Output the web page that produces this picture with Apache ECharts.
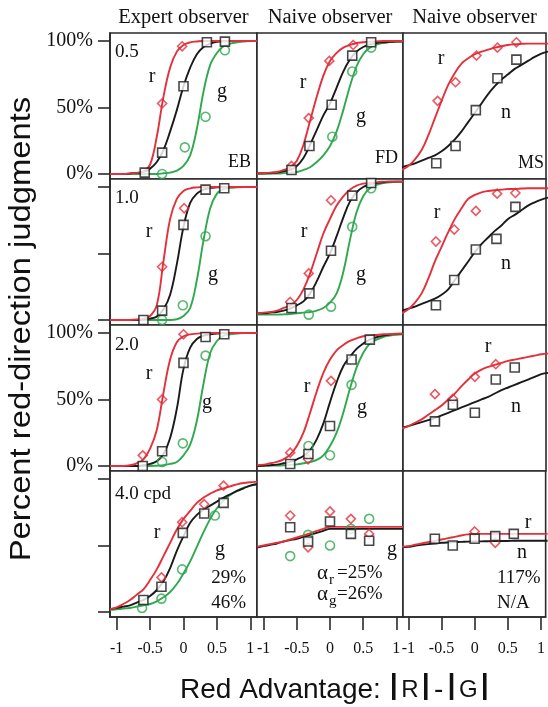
<!DOCTYPE html>
<html><head><meta charset="utf-8">
<script src="https://cdn.jsdelivr.net/npm/echarts@6/dist/echarts.min.js"></script>
<style>html,body{margin:0;padding:0;background:#fff}#c{width:548px;height:707px}</style>
</head><body><div id="c"></div><script>
// ---- data ----
const xTicks = [-1, -0.5, 0, 0.5, 1];
const yTicks = [0, 50, 100];
const columns = ['Expert observer', 'Naive observer', 'Naive observer'];
const observers = ['EB', 'FD', 'MS'];
const freqs = ['0.5', '1.0', '2.0', '4.0 cpd'];
const cx = [-1.1,-1.0,-0.9,-0.8,-0.7,-0.6,-0.5,-0.4,-0.3,-0.2,-0.1,0,0.1,0.2,0.3,0.4,0.5,0.6,0.7,0.8,0.9,1.0,1.1];

// row 1 : 0.5 cpd
const EB05_rFit = [0,0,0,0.3,0.8,2,7,28,58,80,92,97,99,99.6,100,100,100,100,100,100,100,100,100];
const EB05_nFit = [0,0,0,0.3,0.8,1.5,4,9,18,32,48,66,80,90,95.5,98,99.3,99.8,100,100,100,100,100];
const EB05_gFit = [0,0,0,0,0,0,0,0,0.5,1,2.5,6,14,34,62,82,91,96,98,99,99.5,100,100];
const EB05_r = [[-0.32,53],[-0.02,96]];
const EB05_n = [[-0.58,1],[-0.32,16],[0,66],[0.35,99],[0.62,99.5]];
const EB05_g = [[-0.32,0],[0.02,20],[0.33,43],[0.62,93]];

const FD05_rFit = [0.5,0.7,1,1.5,3,5,10,22,40,58,74,85,91,95,97,98.5,99,99.5,99.7,100,100,100,100];
const FD05_nFit = [0.5,0.6,0.8,1,2,3,6,12,22,33,44,53,65,77,86,92,95.5,97.5,98.5,99,99.3,99.5,99.5];
const FD05_gFit = [0,0,0.2,0.3,0.6,1,1.5,3,5,9,14,21,32,48,66,81,90,95,97.3,98.5,99.2,99.5,99.7];
const FD05_r = [[-0.58,6],[-0.32,42],[-0.01,85],[0.35,97]];
const FD05_n = [[-0.58,3],[-0.31,21],[0.025,52],[0.335,89],[0.62,99]];
const FD05_g = [[0.035,28],[0.335,77],[0.62,95]];

const MS05_rFit = [3,6,11,18,29,42,55,67,76,83,87,90,92,93.5,95,96,97,97.5,97.8,98,98,98,98];
const MS05_nFit = [5,6.5,8,10,12,14,17,21,26,32,39,46,53,60,66,71,75,79,82,85,88,90.5,92];
const MS05_r = [[-0.56,55],[-0.29,69],[0.025,89],[0.34,95],[0.625,99]];
const MS05_n = [[-0.58,8],[-0.29,21],[0.015,48],[0.34,72],[0.625,86]];

// row 2 : 1.0 cpd
const EB10_rFit = [0,0,0,0,0.3,1,3,11,44,76,91,97,99,99.7,100,100,100,100,100,100,100,100,100];
const EB10_nFit = [0,0,0,0,0,0.5,1,2.5,8,19,42,70,88,95,98,99.3,99.7,100,100,100,100,100,100];
const EB10_gFit = [0,0,0,0,0,0,0,0,0,0,0.5,3,9,30,60,84,95,98.5,99.3,99.7,100,100,100];
const EB10_r = [[-0.32,40],[0.01,84]];
const EB10_n = [[-0.6,0],[-0.32,7],[0,71.5],[0.33,98],[0.61,99]];
const EB10_g = [[-0.32,0],[-0.01,11],[0.33,63]];

const FD10_rFit = [5,5.5,6,7,9,11,15,23,35,50,65,76,86,93,98,101,102.5,103,103.5,104,104,104,104];
const FD10_nFit = [5,5,5.5,6,7,8.5,11,14,20,29,40,50,63,77,89,96,100,102,103,103.5,104,104,104];
const FD10_gFit = [4,4,4,4,4.2,4.5,5,5.5,6,7,9,13,20,36,60,81,93,99,101.5,103,103.5,104,104];
const FD10_r = [[-0.6,13.5],[-0.32,35],[0.015,90]];
const FD10_n = [[-0.58,9],[-0.31,20],[0.015,52],[0.335,93.5],[0.62,103]];
const FD10_g = [[-0.32,4],[0.015,10],[0.335,70],[0.62,99]];

const MS10_rFit = [5,8,13,20,31,44,55,66,76,84,91,94,96,97,97.5,98,98.5,98.5,98.8,99,99,99,99];
const MS10_nFit = [7,8.5,10,12,14,16,19,23,30,37,44,51,57,62,67,71,76,79,82.5,86,88.5,90.5,92];
const MS10_r = [[-0.585,59],[-0.31,68],[0.015,82],[0.335,95],[0.61,95.5]];
const MS10_n = [[-0.585,11],[-0.31,30],[0.015,53],[0.325,61],[0.61,85]];

// row 3 : 2.0 cpd
const EB20_rFit = [0,0,0,0.5,2,5,13,27,55,80,93,97.5,99,99.5,100,100,100,100,100,100,100,100,100];
const EB20_nFit = [0,0,0,0,0,0.5,1.5,3.5,9,21,43,73,89,95.5,98,99,99.5,100,100,100,100,100,100];
const EB20_gFit = [0,0,0,0,0,0,0,0.2,0.5,1.5,3,8,16,34,62,85,94,98,99,99.5,100,100,100];
const EB20_r = [[-0.61,8],[-0.32,50],[0,99]];
const EB20_n = [[-0.61,0],[-0.32,11],[0,77.5],[0.33,97],[0.61,99]];
const EB20_g = [[-0.32,3],[-0.01,17],[0.33,83]];

const FD20_rFit = [0.5,1,2,3,5,8.5,15,25,40,56,70,80,87,91,94,96,97.5,98,98.5,99,99.2,99.4,99.5];
const FD20_nFit = [0,0.3,0.6,1,2,3,5,7.5,12,20,32,48,63,75,82,88,92,95,96.8,98,98.8,99.3,99.5];
const FD20_gFit = [0,0,0.2,0.3,0.5,0.8,1.2,2,3,4.5,8,15,25,40,58,74,85,92,95,97,98,98.7,99];
const FD20_r = [[-0.6,10],[-0.33,5],[0.015,64]];
const FD20_n = [[-0.6,1.5],[-0.325,9],[0,30],[0.325,80],[0.6,95]];
const FD20_g = [[-0.325,15],[0,8],[0.325,61]];

const MS20_rFit = [28,30,32.5,35,38.5,42,45.5,50,54.5,60,65,69.5,72.5,74.5,76,77.5,79,80,81,82,83,84,84.5];
const MS20_nFit = [28.5,30,31.5,33,34.5,36,38,40,42,44,46,48,50,52,54.5,57,59,61,63,65,67,69,70];
const MS20_r = [[-0.6,54],[-0.33,50.5],[0,67],[0.315,76.5]];
const MS20_n = [[-0.6,33.5],[-0.33,46],[0,40],[0.315,65],[0.6,74]];

// row 4 : 4.0 cpd
const EB40_rFit = [2,3.5,6,9,13,17,24,32,42,52,62,70,76,82,86,89,91.5,93,94.5,96,97,97.5,98];
const EB40_nFit = [2,3,4,5,7,9,12,16.5,23,33,46,57,67,73,77,80,83,86,88.5,91,93,95,96];
const EB40_gFit = [1.5,2,2.5,3,4,5,6,8,11,15,21,29,38,49,60,70,78,84,88,91,93.5,95,96];
const EB40_r = [[-0.33,26],[-0.02,67.5],[0.31,81],[0.6,95]];
const EB40_n = [[-0.6,9],[-0.33,19],[-0.01,59.5],[0.31,74],[0.6,82]];
const EB40_g = [[-0.62,3],[-0.33,10],[-0.02,32],[0.47,72.5]];

const FD40_rFit = [49,50,51,52,53,54.5,56,57.5,59,61,62.5,64,64,64,64,64,64,64,64,64,64,64,64];
const FD40_nFit = [48.5,49.5,50.5,51.5,53,54,55,56.5,58,59.5,61,62.5,62.5,62.5,62.5,62.5,62.5,62.5,62.5,62.5,62.5,62.5,62.5];
const FD40_r = [[-0.6,72.5],[-0.33,48.6],[0,75.6],[0.315,70],[0.59,58.7]];
const FD40_n = [[-0.6,63.7],[-0.33,53],[0,68],[0.315,58.7],[0.59,53.6]];
const FD40_g = [[-0.6,42],[-0.33,58],[0,50],[0.315,62.5],[0.59,70]];

const MS40_rFit = [49,49.5,50.5,51.5,52.5,53.5,54.5,55.5,56.5,57.5,58.3,58.7,58.7,58.7,58.7,58.7,58.7,58.7,58.7,58.7,58.7,58.7,58.7];
const MS40_nFit = [48.8,49,49.8,50.5,51,51.5,52,52.3,52.5,52.7,52.9,53,53.1,53.2,53.3,53.4,53.4,53.5,53.5,53.5,53.5,53.5,53.5];
const MS40_r = [[0,60.5],[0.31,52]];
const MS40_n = [[-0.6,55],[-0.33,50],[0,55],[0.31,57],[0.59,58.7]];

const panels = [
  {fits:{g:EB05_gFit,n:EB05_nFit,r:EB05_rFit}, pts:{g:EB05_g,n:EB05_n,r:EB05_r}},
  {fits:{g:FD05_gFit,n:FD05_nFit,r:FD05_rFit}, pts:{g:FD05_g,n:FD05_n,r:FD05_r}},
  {fits:{n:MS05_nFit,r:MS05_rFit}, pts:{n:MS05_n,r:MS05_r}},
  {fits:{g:EB10_gFit,n:EB10_nFit,r:EB10_rFit}, pts:{g:EB10_g,n:EB10_n,r:EB10_r}},
  {fits:{g:FD10_gFit,n:FD10_nFit,r:FD10_rFit}, pts:{g:FD10_g,n:FD10_n,r:FD10_r}},
  {fits:{n:MS10_nFit,r:MS10_rFit}, pts:{n:MS10_n,r:MS10_r}},
  {fits:{g:EB20_gFit,n:EB20_nFit,r:EB20_rFit}, pts:{g:EB20_g,n:EB20_n,r:EB20_r}},
  {fits:{g:FD20_gFit,n:FD20_nFit,r:FD20_rFit}, pts:{g:FD20_g,n:FD20_n,r:FD20_r}},
  {fits:{n:MS20_nFit,r:MS20_rFit}, pts:{n:MS20_n,r:MS20_r}},
  {fits:{g:EB40_gFit,n:EB40_nFit,r:EB40_rFit}, pts:{g:EB40_g,n:EB40_n,r:EB40_r}},
  {fits:{n:FD40_nFit,r:FD40_rFit}, pts:{g:FD40_g,n:FD40_n,r:FD40_r}},
  {fits:{n:MS40_nFit,r:MS40_rFit}, pts:{n:MS40_n,r:MS40_r}}
];

// ---- layout / style ----
const SERIF = '"Liberation Serif", "DejaVu Serif", serif';
const SANS = '"Liberation Sans", Arial, sans-serif';
const COL = {r:'#e3303b', g:'#2fa84f', n:'#1a1a1a'};
const gLeft = [110, 257, 403], gWidth = [147, 146, 143];
const gTop = [33, 179, 325, 471], gH = 146;
const xRange = [[-1.1,1.1],[-1.1,1.1],[-1.08,1.07]];
const yMin = -3.8, yMax = 106;

const grid = [], xAxis = [], yAxis = [], series = [];
for (let r = 0; r < 4; r++) for (let c = 0; c < 3; c++) {
  const i = r*3 + c;
  grid.push({left:gLeft[c], top:gTop[r], width:gWidth[c], height:gH, show:true,
    borderColor:'#2a2a2a', borderWidth:1.6, backgroundColor:'#fff'});
  xAxis.push({type:'value', gridIndex:i, min:xRange[c][0], max:xRange[c][1],
    splitLine:{show:false},
    axisLine:{show:r===3, onZero:false, lineStyle:{color:'#2a2a2a', width:1.6}},
    axisTick:{show:r===3, customValues:xTicks, length:13, inside:false, lineStyle:{color:'#2a2a2a', width:1.6}},
    axisLabel:{show:r===3, customValues:xTicks, margin:24, fontFamily:SERIF, fontSize:16, color:'#111',
      formatter:v=>String(v)}});
  yAxis.push({type:'value', gridIndex:i, min:yMin, max:yMax,
    splitLine:{show:false},
    axisLine:{show:c===0, onZero:false, lineStyle:{color:'#2a2a2a', width:1.6}},
    axisTick:{show:c===0, customValues:yTicks, length:12, inside:false, lineStyle:{color:'#2a2a2a', width:1.6}},
    axisLabel:{show:c===0 && (r===0 || r===2), customValues:yTicks, margin:17, fontFamily:SERIF, fontSize:20, color:'#111',
      formatter:v=>v+'%'}});
  const p = panels[i];
  ['g','n','r'].forEach(k => {
    if (!p.fits[k]) return;
    series.push({type:'line', xAxisIndex:i, yAxisIndex:i, showSymbol:false, smooth:0.4,
      data:cx.map((x,j)=>[x, p.fits[k][j]]), lineStyle:{color:COL[k], width:1.9}, z:2, silent:true});
  });
  ['g','r','n'].forEach(k => {
    if (!p.pts[k]) return;
    const sym = k==='n' ? 'rect' : (k==='r' ? 'diamond' : 'circle');
    series.push({type:'scatter', xAxisIndex:i, yAxisIndex:i, symbol:sym,
      symbolSize: 9, data:p.pts[k],
      itemStyle:{color: k==='n' ? '#fff' : 'rgba(255,255,255,0)', borderColor:COL[k], borderWidth:1.6}, z:3, silent:true});
  });
}

function T(text, x, y, o) {
  o = o || {};
  return {type:'text', x:x, y:y, z:10, rotation:o.rot||0, scaleX:o.sx||1,
    style:{text:text, fill:'#111', font:(o.size||19)+'px '+(o.family||SERIF),
      align:o.align||'left', verticalAlign:'middle'}};
}
const graphic = [];
columns.forEach((t, c) => graphic.push(T(t, gLeft[c] + gWidth[c]/2, 18, {align:'center', size:20.5})));
graphic.push(T(freqs[0], 115, 52));
graphic.push(T(freqs[1], 115, 198));
graphic.push(T(freqs[2], 115, 345));
graphic.push(T(freqs[3], 115, 494));
graphic.push(T(observers[0], 251, 162, {align:'right', size:18}));
graphic.push(T(observers[1], 398, 158, {align:'right', size:18}));
graphic.push(T(observers[2], 544, 163, {align:'right', size:18}));
[['r',152,77],['g',222,92],['r',303,83],['g',361,117],['r',441,59],['n',506,113],
 ['r',149,232],['g',213,275],['r',304,232],['g',361,275],['r',437,213],['n',506,264],
 ['r',149,374],['g',207,403],['r',307,387],['g',362,408],['r',488,347],['n',516,407],
 ['r',157,533],['g',220,550],['g',392,550],['r',528,523],['n',522,553]]
 .forEach(a => graphic.push(T(a[0], a[1], a[2], {align:'center', size:20})));
graphic.push(T('29%', 246, 578, {align:'right', size:19}));
graphic.push(T('46%', 246, 603, {align:'right', size:19}));
graphic.push(T('\u03b1', 317, 573, {size:21}));
graphic.push(T('r', 329, 580, {size:15}));
graphic.push(T('=25%', 337, 573, {size:19}));
graphic.push(T('\u03b1', 317, 594, {size:21}));
graphic.push(T('g', 329, 601, {size:15}));
graphic.push(T('=26%', 337, 594, {size:19}));
graphic.push(T('117%', 497, 578, {size:19}));
graphic.push(T('N/A', 497, 603, {size:19}));
graphic.push(T('Percent red-direction judgments', 22, 329, {align:'center', size:29, family:SANS, rot:Math.PI/2, sx:1.13}));
graphic.push({type:'text', x:180, y:690, z:10, style:{
  text:'{a|Red Advantage: }{b|I}{c|R}{b|I}{d|-}{b|I}{c|G}{b|I}', verticalAlign:'middle', align:'left',
  rich:{a:{fontFamily:SANS, fontSize:28, fill:'#111'}, b:{fontFamily:SANS, fontSize:38, fill:'#111'},
        c:{fontFamily:SANS, fontSize:24, fill:'#111', padding:[0,2,0,2]},
        d:{fontFamily:SANS, fontSize:28, fill:'#111', padding:[0,3,0,3]}}}});

const chart = echarts.init(document.getElementById('c'), null, {renderer:'canvas'});
chart.setOption({animation:false, backgroundColor:'#fff', grid, xAxis, yAxis, series, graphic});
</script></body></html>
